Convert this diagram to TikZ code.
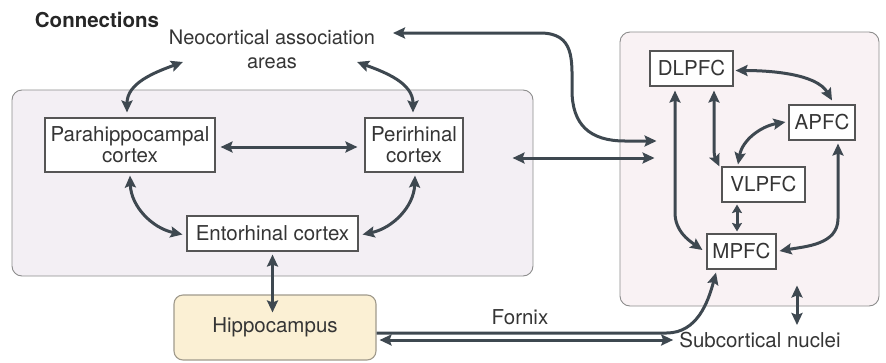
\documentclass[tikz,border=0pt]{standalone}
\usepackage{fontspec}
\setmainfont{TeX Gyre Heros}
\usetikzlibrary{arrows.meta,calc}

\definecolor{arrowc}{HTML}{3E4850}
\definecolor{textc}{HTML}{353535}
\definecolor{boxline}{HTML}{555555}
\definecolor{frameline}{HTML}{8C8C8C}
\definecolor{mtlfill}{HTML}{F3EFF4}
\definecolor{pfcfill}{HTML}{F9F2F4}
\definecolor{hipfill}{HTML}{FBF0D4}
\definecolor{hipline}{HTML}{A09A8C}

\tikzset{
  lbl/.style={text=textc, font=\fontsize{20.5}{21}\selectfont, align=center, inner sep=2pt},
  region/.style={draw=frameline, line width=0.9pt, rounded corners=10pt, inner sep=0pt},
  area/.style={lbl, draw=boxline, fill=white, line width=1.1pt, inner sep=0pt},
  link/.style={draw=arrowc, line width=3pt,
    {Stealth[length=12pt,width=11pt,inset=2pt]}-{Stealth[length=12pt,width=11pt,inset=2pt]}},
  linkto/.style={draw=arrowc, line width=3pt,
    -{Stealth[length=12pt,width=11pt,inset=2pt]}},
  shortlink/.style={draw=arrowc, line width=3pt,
    {Stealth[length=8.5pt,width=10pt,inset=1.5pt]}-{Stealth[length=8.5pt,width=10pt,inset=1.5pt]}},
}

\begin{document}
\begin{tikzpicture}[x=1pt,y=1pt]
\useasboundingbox (0,0) rectangle (886,-362);

% grouping panels
\node[region, fill=mtlfill, minimum width=521pt, minimum height=186pt] (leftbox) at (272.5,-183) {};
\node[region, fill=pfcfill, minimum width=259pt, minimum height=274pt] (rightbox) at (749.5,-169) {};

% title and free labels
\node[lbl, font=\bfseries\fontsize{20.5}{21}\selectfont, text=black!85] (title) at (97,-20) {Connections};
\node[lbl, font=\fontsize{20}{24}\selectfont] (neo) at (272,-49) {Neocortical association\\areas};
\node[lbl] (fornix) at (520,-317) {Fornix};
\node[lbl] (subc) at (760,-340) {Subcortical nuclei};

% medial temporal lobe areas
\node[area, minimum width=170pt, minimum height=54pt] (para) at (130,-145) {Parahippocampal\\cortex};
\node[area, minimum width=98pt, minimum height=54pt] (peri) at (414,-145) {Perirhinal\\cortex};
\node[area, minimum width=171pt, minimum height=35pt] (ento) at (272.5,-233.5) {Entorhinal cortex};
\node[area, draw=hipline, fill=hipfill, rounded corners=9pt, minimum width=202pt, minimum height=65pt] (hippo) at (275,-327.5) {Hippocampus};

% prefrontal areas
\node[area, minimum width=83pt, minimum height=35pt] (dl) at (691.5,-68.5) {DLPFC};
\node[area, minimum width=66pt, minimum height=35pt] (ap) at (822,-122.5) {APFC};
\node[area, minimum width=83pt, minimum height=35pt] (vl) at (763.5,-184.5) {VLPFC};
\node[area, minimum width=69pt, minimum height=35pt] (mp) at (741.5,-251.5) {MPFC};

% medial temporal connections
\draw[link] ($(para.north)+(-3,5)$) to[out=90,in=200] ($(neo.center)+(-89,-13)$);
\draw[link] ($(peri.north)+(-1,5)$) to[out=90,in=-20] ($(neo.center)+(85,-13)$);
\draw[link] ($(para.east)+(5,-2)$) -- ($(peri.west)+(-7,-2)$);
\draw[link] ($(para.south)+(0,-3)$) to[out=-88,in=168] ($(ento.west)+(-4,-1)$);
\draw[link] ($(peri.south)+(1,-3)$) to[out=-92,in=12] ($(ento.east)+(4,-1)$);
\draw[link] ([yshift=-3pt]ento.south) -- ([yshift=-18pt]ento.south |- hippo.north);

% temporal to prefrontal
\draw[link] ($(peri.east)+(49,-13)$) -- ($(rightbox.west)+(35,11)$);
\draw[link] ($(neo.center)+(121,16)$) -- (540,-33)
  .. controls (575,-33) and (572,-60) .. (572,-90)
  .. controls (572,-125) and (590,-141) .. (625,-141)
  -- ($(rightbox.west)+(37,28)$);

% prefrontal connections
\draw[link] ($(dl.east)+(2,-2)$) to[out=0,in=120,looseness=0.8] ($(ap.north)+(10,4)$);
\draw[link] ($(dl.south)+(-16.5,-4)$) -- ++(0,-122) to[out=-90,in=145] ($(mp.west)+(-4,1.5)$);
\draw[link] ($(dl.south)+(22.5,-4)$) -- ++(0,-60) to[out=-90,in=115] ($(vl.north west)+(-2,0)$);
\draw[link] ($(ap.west)+(-3,0.5)$) to[out=190,in=80] ($(vl.north)+(-25.5,2)$);
\draw[shortlink] ($(vl.south)+(-26.5,-2)$) -- ($(mp.north)+(-4.5,2)$);
\draw[link] ($(ap.south)+(16,-3)$) -- ++(0,-75) to[out=-90,in=10] ($(mp.east)+(3,0.5)$);

% hippocampal outputs
\draw[linkto] ($(hippo.east)+(0,-5.5)$) -- ++(290,0) to[out=0,in=-105] ($(mp.south)+(-25.5,-3)$);
\draw[link] ($(hippo.east)+(3,-12.5)$) -- ($(subc.west)+(-4,0)$);
\draw[link] ($(subc.center)+(37,15)$) -- ($(rightbox.south)+(47.5,21)$);
\end{tikzpicture}
\end{document}
